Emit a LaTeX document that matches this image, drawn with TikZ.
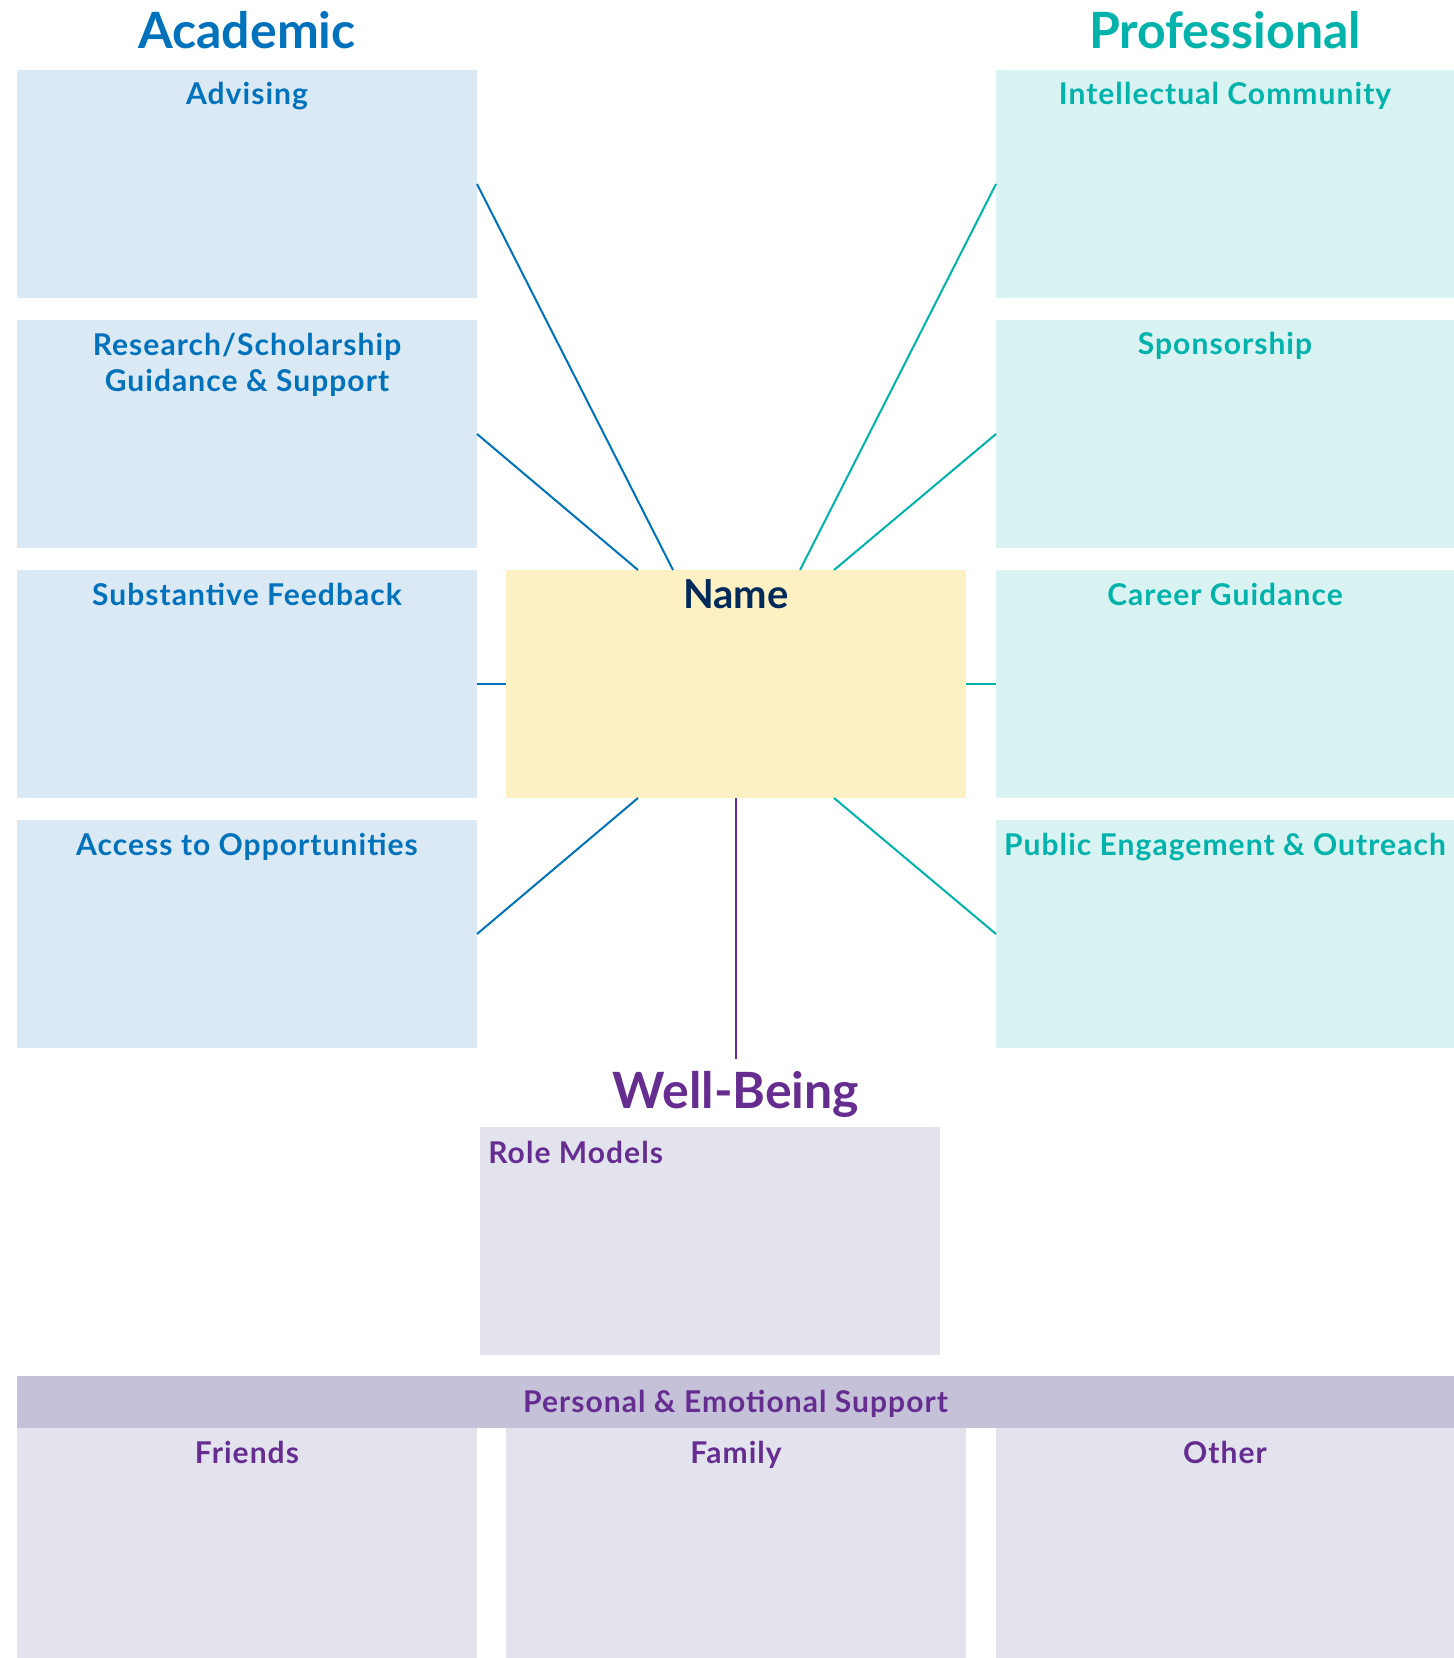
\documentclass[tikz,border=0pt]{standalone}
\usepackage{fontspec}
\setmainfont{Lato}
\newfontfamily\labelfont{Lato}[LetterSpace=3.5]
\usetikzlibrary{positioning}
\definecolor{acad}{RGB}{0,114,188}
\definecolor{prof}{RGB}{0,179,170}
\definecolor{well}{RGB}{102,45,145}
\definecolor{navy}{RGB}{0,42,90}
\definecolor{acadfill}{RGB}{218,233,244}
\definecolor{proffill}{RGB}{217,242,242}
\definecolor{namefill}{RGB}{253,241,195}
\definecolor{wellfill}{RGB}{227,227,238}
\definecolor{barfill}{RGB}{196,193,216}
\tikzset{
box/.style={rectangle, inner sep=0pt, outer sep=0pt, minimum width=230pt, minimum height=114pt},
acadbox/.style={box, fill=acadfill},
profbox/.style={box, fill=proffill},
wellbox/.style={box, fill=wellfill},
boxlabel/.style={anchor=base, inner sep=0pt, align=center, font=\labelfont\bfseries\fontsize{15pt}{17.5pt}\selectfont},
heading/.style={anchor=base, inner sep=0pt, font=\bfseries\fontsize{25pt}{30pt}\selectfont},
link/.style={line width=1pt},
}

\begin{document}
\begin{tikzpicture}[x=0.5pt, y=-0.5pt]
    \useasboundingbox (0,0) rectangle (1454,1658);
    % headings
    \node[heading, text=acad] (academic) at (247,49) {Academic};
    \node[heading, text=prof] (professional) at (1225,49) {Professional};
    \node[heading, text=well] (wellbeing) at (736,1108) {Well-Being};
    % academic column
    \node[acadbox] (adv) at (247,184) {};
    \node[acadbox] (res) at (247,434) {};
    \node[acadbox] (feed) at (247,684) {};
    \node[acadbox] (opp) at (247,934) {};
    \node[boxlabel, text=acad] at ([yshift=-17.5pt]adv.north) {Advising};
    \node[boxlabel, text=acad] at ([yshift=-35.5pt]res.north) {Research/Scholarship\\Guidance \& Support};
    \node[boxlabel, text=acad] at ([yshift=-17.5pt]feed.north) {Substantive Feedback};
    \node[boxlabel, text=acad] at ([yshift=-17.5pt]opp.north) {Access to Opportunities};
    % professional column
    \node[profbox, minimum width=229pt] (comm) at (1225,184) {};
    \node[profbox, minimum width=229pt] (spon) at (1225,434) {};
    \node[profbox, minimum width=229pt] (career) at (1225,684) {};
    \node[profbox, minimum width=229pt] (pub) at (1225,934) {};
    \node[boxlabel, text=prof] at ([yshift=-17.5pt]comm.north) {Intellectual Community};
    \node[boxlabel, text=prof] at ([yshift=-17.5pt]spon.north) {Sponsorship};
    \node[boxlabel, text=prof] at ([yshift=-17.5pt]career.north) {Career Guidance};
    \node[boxlabel, text=prof] at ([yshift=-17.5pt]pub.north) {Public Engagement \& Outreach};
    % name
    \node[box, fill=namefill] (name) at (736,684) {};
    \node[boxlabel, text=navy, font=\bfseries\fontsize{20pt}{24pt}\selectfont] at ([yshift=-19pt]name.north) {Name};
    % well-being
    \node[wellbox] (role) at (710,1241) {};
    \node[boxlabel, text=well, anchor=base west] at ([xshift=4pt, yshift=-18pt]role.north west) {Role Models};
    \node[rectangle, fill=barfill, inner sep=0pt, minimum width=718.5pt, minimum height=26pt] (support) at (735.5,1402) {};
    \node[boxlabel, text=well] at ([yshift=-5pt]support.center) {Personal \& Emotional Support};
    \node[wellbox, minimum height=115pt] (friends) at (247,1543) {};
    \node[wellbox, minimum height=115pt] (family) at (736,1543) {};
    \node[wellbox, minimum height=115pt, minimum width=229pt] (other) at (1225,1543) {};
    \node[boxlabel, text=well] at ([yshift=-17.5pt]friends.north) {Friends};
    \node[boxlabel, text=well] at ([yshift=-17.5pt]family.north) {Family};
    \node[boxlabel, text=well] at ([yshift=-17.5pt]other.north) {Other};
    % connectors
    \coordinate (wbtop) at (736,1059);
    \draw[link, acad] (adv.east) -- ([shift={(-63,0)}]name.north);
    \draw[link, acad] (res.east) -- ([shift={(-98,0)}]name.north);
    \draw[link, acad] (feed.east) -- (name.west);
    \draw[link, acad] (opp.east) -- ([shift={(-98,0)}]name.south);
    \draw[link, prof] (comm.west) -- ([shift={(64,0)}]name.north);
    \draw[link, prof] (spon.west) -- ([shift={(98,0)}]name.north);
    \draw[link, prof] (career.west) -- (name.east);
    \draw[link, prof] (pub.west) -- ([shift={(98,0)}]name.south);
    \draw[link, well] (name.south) -- (wbtop);
\end{tikzpicture}
\end{document}
